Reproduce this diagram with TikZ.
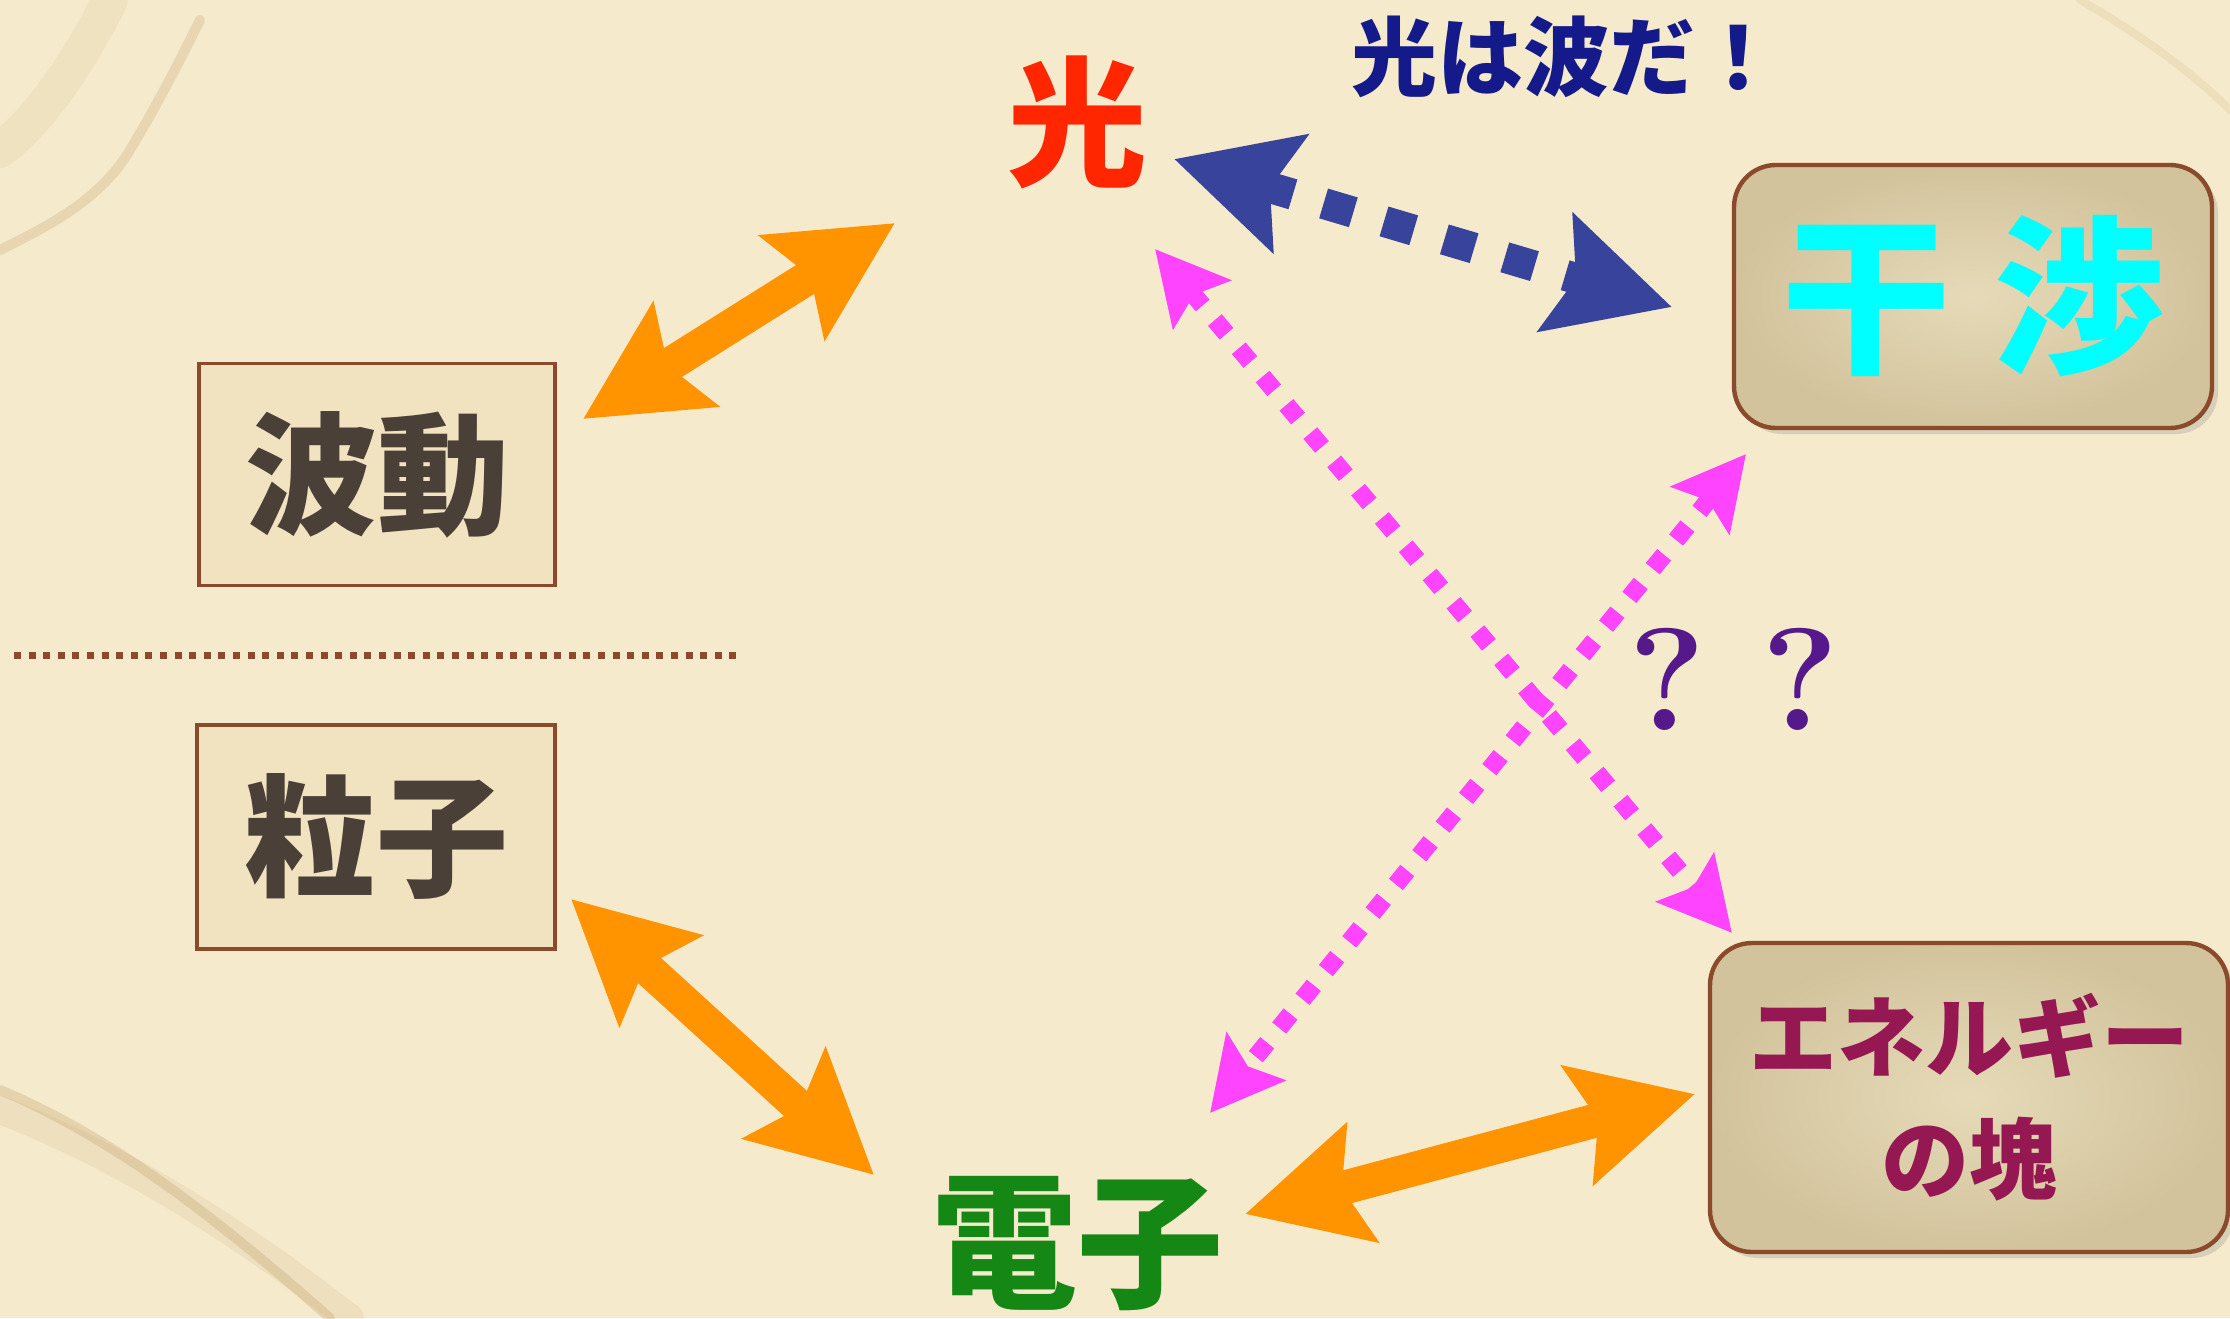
\documentclass[tikz,border=0pt]{standalone}
\usepackage{fontspec}
\newfontfamily\jp{Noto Sans CJK JP}
\usetikzlibrary{arrows.meta,shadows}
\definecolor{bgc}{HTML}{F5EACB}
\definecolor{streak}{HTML}{C29E6A}
\definecolor{boxline}{HTML}{8B4A2B}
\definecolor{sqfill}{HTML}{F2E3C0}
\definecolor{rinner}{HTML}{E6DAB8}
\definecolor{router}{HTML}{D2C39C}
\definecolor{darktext}{HTML}{4A4038}
\definecolor{cyanc}{HTML}{00FFFF}
\definecolor{maroonc}{HTML}{951852}
\definecolor{redc}{HTML}{FF2600}
\definecolor{navytext}{HTML}{141A8A}
\definecolor{greenc}{HTML}{148714}
\definecolor{purplec}{HTML}{55198C}
\definecolor{orangec}{HTML}{FF9400}
\definecolor{navyc}{HTML}{38449C}
\definecolor{pinkc}{HTML}{FF44FF}
\begin{document}
\begin{tikzpicture}[x=0.5pt,y=-0.5pt,
  sqbox/.style={draw=boxline, line width=1.7pt, fill=sqfill, inner sep=0pt,
    minimum width=178pt, minimum height=111pt, text=darktext,
    font=\jp\bfseries\fontsize{66pt}{70pt}\selectfont},
  rbox/.style={draw=boxline, line width=2.2pt, rounded corners=21pt,
    inner color=rinner, outer color=router, inner sep=0pt,
    drop shadow={shadow xshift=3pt, shadow yshift=-3pt, opacity=0.25}},
  orangearr/.style={draw=orangec, line width=17pt, {Stealth[length=60pt,width=60pt,inset=10pt]}-{Stealth[length=60pt,width=60pt,inset=10pt]}},
  navyarr/.style={draw=navyc, line width=15.5pt, dash pattern=on 15.5pt off 16pt,
    {Stealth[length=60pt,width=60pt,inset=10pt]}-{Stealth[length=60pt,width=60pt,inset=10pt]}},
  pinkarr/.style={draw=pinkc, line width=9pt, dash pattern=on 9pt off 9.5pt,
    {Stealth[length=36pt,width=37pt,inset=6pt]}-{Stealth[length=36pt,width=37pt,inset=6pt]}},
  divider/.style={draw=boxline, line width=3.5pt, dash pattern=on 3.5pt off 3.8pt}
]
\useasboundingbox (0,0) rectangle (2230,1318);
% background
\fill[bgc] (0,0) rectangle (2230,1318);
\begin{scope}[streak, line cap=round]
  \draw[line width=5pt, opacity=0.3] (0,1090) .. controls (120,1140) and (230,1230) .. (330,1318);
  \draw[line width=14pt, opacity=0.12] (0,1110) .. controls (130,1160) and (250,1240) .. (350,1318);
  \draw[line width=5pt, opacity=0.25] (0,250) .. controls (50,225) and (100,200) .. (130,150) .. controls (160,100) and (180,60) .. (200,20);
  \draw[line width=18pt, opacity=0.1] (0,150) .. controls (40,120) and (80,60) .. (110,0);
  \draw[line width=4pt, opacity=0.15] (2080,0) .. controls (2150,40) and (2200,80) .. (2230,110);
\end{scope}
% boxes
\node[sqbox] (hado) at (377,474.5) {波動};
\node[sqbox, minimum width=179pt, minimum height=112pt] (ryushi) at (376,837) {粒子};
\node[rbox, minimum width=239pt, minimum height=131.5pt, text=cyanc,
  font=\jp\bfseries\fontsize{85pt}{90pt}\selectfont] (kansho) at (1973,296.5) {干\hspace{22pt}渉};
\node[rbox, minimum width=259pt, minimum height=154.5pt, text=maroonc, align=center,
  font=\jp\bfseries\fontsize{44pt}{61pt}\selectfont] (energy) at (1969,1097.5) {エネルギー\\の塊};
% free texts
\node[text=redc, inner sep=0pt, font=\jp\bfseries\fontsize{70pt}{74pt}\selectfont] (hikari) at (1077,122) {光};
\node[text=navytext, inner sep=0pt, font=\jp\bfseries\fontsize{43pt}{46pt}\selectfont] (nami) at (1566,57) {光は波だ！};
\node[text=greenc, inner sep=0pt, font=\jp\bfseries\fontsize{73pt}{76pt}\selectfont] (denshi) at (1077,1244) {電子};
\node[text=purplec, inner sep=0pt, font=\bfseries\fontsize{73pt}{76pt}\selectfont] (q1) at (1667,679) {?};
\node[text=purplec, inner sep=0pt, font=\bfseries\fontsize{73pt}{76pt}\selectfont] (q2) at (1800,679) {?};
% divider
\coordinate (divL) at (14,655);
\coordinate (divR) at (742,655);
\draw[divider] (divL) -- (divR);
% arrow end points
\coordinate (o1a) at (583,419);
\coordinate (o1b) at (895,223);
\coordinate (o2a) at (571,899);
\coordinate (o2b) at (874,1175);
\coordinate (o3a) at (1245,1214);
\coordinate (o3b) at (1695,1094);
\coordinate (n1a) at (1174,159);
\coordinate (n1b) at (1672,307);
\coordinate (p1a) at (1155,249);
\coordinate (p1b) at (1732,933);
\coordinate (p2a) at (1746,454);
\coordinate (p2b) at (1210,1113);
% arrows
\draw[orangearr] (o1a) -- (o1b);
\draw[orangearr] (o2a) -- (o2b);
\draw[orangearr] (o3a) -- (o3b);
\draw[navyarr] (n1a) -- (n1b);
\draw[pinkarr] (p1a) -- (p1b);
\draw[pinkarr] (p2a) -- (p2b);
\end{tikzpicture}
\end{document}
